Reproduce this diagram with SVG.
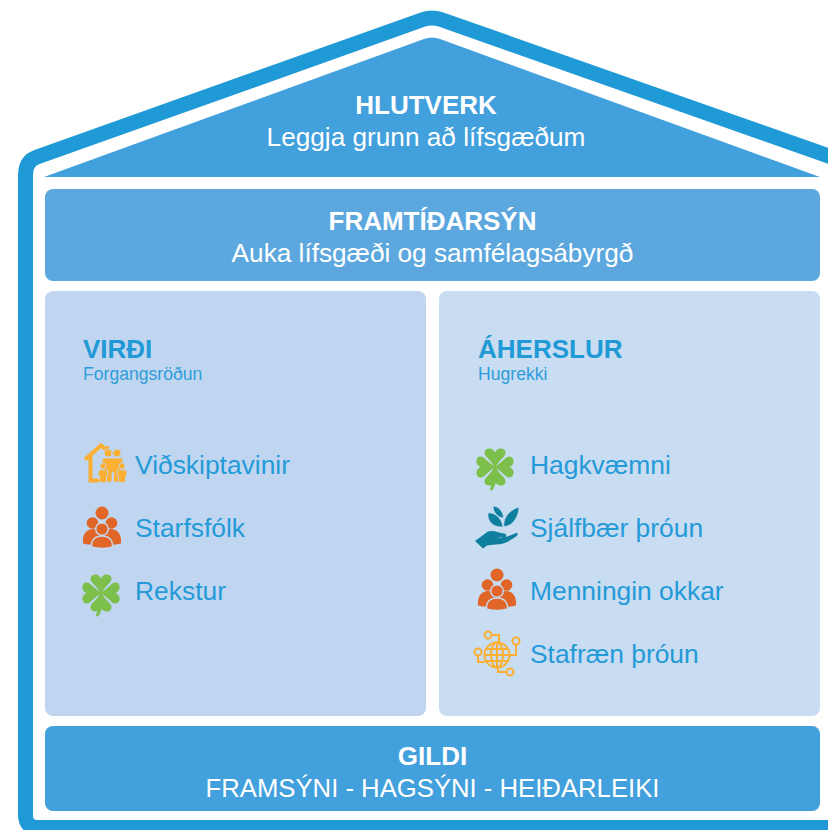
<svg xmlns="http://www.w3.org/2000/svg" width="828" height="830" viewBox="0 0 828 830">
<style>
text{font-family:"Liberation Sans",Arial,sans-serif}
.w{fill:#fff;text-anchor:middle}
.h{font-size:26px;font-weight:700}
.s{font-size:26.2px}
.t{fill:#1f9ad6;font-size:26px;font-weight:700}
.u{fill:#2f9dda;font-size:17.600px}
.i{fill:#249ad8;font-size:26.400px}
</style>
<defs>
<path id="leaf" d="M0,1C-2,-3 -4,-5 -6.500,-8C-9,-10.500 -11,-12.500 -10.500,-15C-10,-18 -6.500,-19 -4.500,-18.500C-2.500,-18 -1,-16.500 0,-14.500C1,-16.500 2.500,-18 4.500,-18.500C6.500,-19 10,-18 10.500,-15C11,-12.500 9,-10.500 6.500,-8C4,-5 2,-3 0,1Z"/>
<g id="clover" fill="#7cbf4a">
<use href="#leaf"/>
<use href="#leaf" transform="rotate(90)"/>
<use href="#leaf" transform="rotate(180)"/>
<use href="#leaf" transform="rotate(270)"/>
<path fill="none" stroke="#7cbf4a" stroke-width="3" stroke-linecap="round" d="M0,0C1.500,8 0,16 -3.500,22"/>
</g>
<g id="people" fill="#e06526">
<circle cx="0" cy="-16" r="6.500"/>
<circle cx="-9.500" cy="-6" r="5.800"/>
<circle cx="9.500" cy="-6" r="5.800"/>
<path d="M-19,14.500C-20,5 -15,0 -9,0C-6,0 -3,1 0,3C3,1 6,0 9,0C15,0 20,5 19,14.500C12,16.500 -12,16.500 -19,14.500Z"/>
<circle cx="0" cy="0" r="6.300" stroke="#c6daf1" stroke-width="1.400"/>
<path stroke="#c6daf1" stroke-width="1.400" d="M-10.500,18C-11,10 -6,7 0,7C6,7 11,10 10.500,18C5,20 -5,20 -10.500,18Z"/>
</g>
</defs>
<g id="connectors"/>
<g id="house">
<path fill="none" stroke="#1f9ad6" stroke-width="15" stroke-linejoin="round" d="M840,160L441,19.500Q432,16.500 423,19.500L37,157Q25.500,161 25.500,175V815Q25.500,827.500 38,827.500H840"/>
</g>
<g id="hlutverk">
<path fill="#42a0dc" d="M44,177L424,39Q432,36 440,39L820,177Z"/>
<text class="w h" x="426" y="114">HLUTVERK</text>
<text class="w s" x="426" y="146">Leggja grunn að lífsgæðum</text>
</g>
<g id="framtidarsyn">
<rect x="45" y="189" width="775" height="92" rx="8" fill="#5ca8de"/>
<text class="w h" x="432.500" y="230">FRAMTÍÐARSÝN</text>
<text class="w s" x="432.500" y="262">Auka lífsgæði og samfélagsábyrgð</text>
</g>
<g id="virdi">
<rect x="45" y="291" width="381" height="425" rx="8" fill="#c0d6f0"/>
<text class="t" x="83" y="358">VIRÐI</text>
<text class="u" x="83" y="379.500">Forgangsröðun</text>
</g>
<g id="aherslur">
<rect x="439" y="291" width="381" height="425" rx="8" fill="#c8dcf2"/>
<text class="t" x="478" y="358">ÁHERSLUR</text>
<text class="u" x="478" y="379.500">Hugrekki</text>
</g>
<g id="vidskiptavinir">
<path fill="none" stroke="#fbb034" stroke-width="4" d="M85,459.500L101,445.500L112,455M90.500,455V480.500H100"/>
<path fill="#fbb034" d="M106,446H109V452L106,450Z"/>
<g fill="#fbb034" stroke="#c0d6f0" stroke-width="0.800">
<circle cx="108" cy="453" r="4"/><circle cx="117" cy="453" r="4"/>
<path d="M103,458H122L125,470H121V482H113.500V472H112V482H104V470H100Z"/>
<circle cx="103" cy="466" r="3"/><circle cx="122" cy="466" r="3"/>
<path d="M98.500,470H107.500L108,476H106.500V482.500H99.500V476H98Z"/>
<path d="M117.500,470H126.500L127,476H125.500V482.500H118.500V476H117Z"/>
</g>
<text class="i" x="135" y="474">Viðskiptavinir</text>
</g>
<g id="starfsfolk">
<use href="#people" x="102" y="529"/>
<text class="i" x="135" y="537">Starfsfólk</text>
</g>
<g id="rekstur">
<use href="#clover" x="101" y="593"/>
<text class="i" x="135" y="600">Rekstur</text>
</g>
<g id="hagkvaemni">
<use href="#clover" x="495" y="467"/>
<text class="i" x="530" y="474">Hagkvæmni</text>
</g>
<g id="sjalfbaer">
<path fill="#0f7f9e" d="M475,541L488,531.500C493,529.500 500,533 504,533.500C507,534 507,537.500 504,537.500H497C502,539 509,536 516,533C518.500,532.500 518,535 516,536.500C510,541 502,545 495,544.500L487,545.500L483,548.500Z"/>
<g fill="#0f7f9e" stroke="#c8dcf2" stroke-width="0.800">
<path d="M493,506C498,506 503,511 503.500,517C503.500,518 502.500,518 501,517.500C496,516 493,511 493,506Z"/>
<path d="M488,513C494,512 501,517 503,526C503.500,527.500 500,527 497,526.500C491,525 487,519 488,513Z"/>
<path d="M519,507C519,516 513,526 505,526.500C503.500,526.500 503.500,525 504,522C505,515 512,509 519,507Z"/>
</g>
<text class="i" x="530" y="537">Sjálfbær þróun</text>
</g>
<g id="menningin">
<use href="#people" x="497" y="591"/>
<text class="i" x="530" y="600">Menningin okkar</text>
</g>
<g id="stafraen">
<g fill="none" stroke="#fbb034" stroke-width="2">
<circle cx="497" cy="655" r="12.500"/>
<ellipse cx="497" cy="655" rx="6" ry="12.500"/>
<path d="M497,642.500V667.500M484.500,655H509.500M486,649H508M486,661H508"/>
<circle cx="488" cy="635" r="3.500"/><circle cx="478" cy="652" r="3.500"/><circle cx="516" cy="641" r="3.500"/><circle cx="510" cy="672" r="3.500"/>
<path d="M491.500,635H499V642.500M478,655.500V662H485M516,644.500V655H509.500M506.500,672H498V667.500"/>
</g>
<text class="i" x="530" y="663">Stafræn þróun</text>
</g>
<g id="gildi">
<rect x="45" y="726" width="775" height="85" rx="8" fill="#42a0dc"/>
<text class="w h" x="432.500" y="765">GILDI</text>
<text class="w" font-size="25.700" x="432.500" y="797">FRAMSÝNI - HAGSÝNI - HEIÐARLEIKI</text>
</g>
</svg>
